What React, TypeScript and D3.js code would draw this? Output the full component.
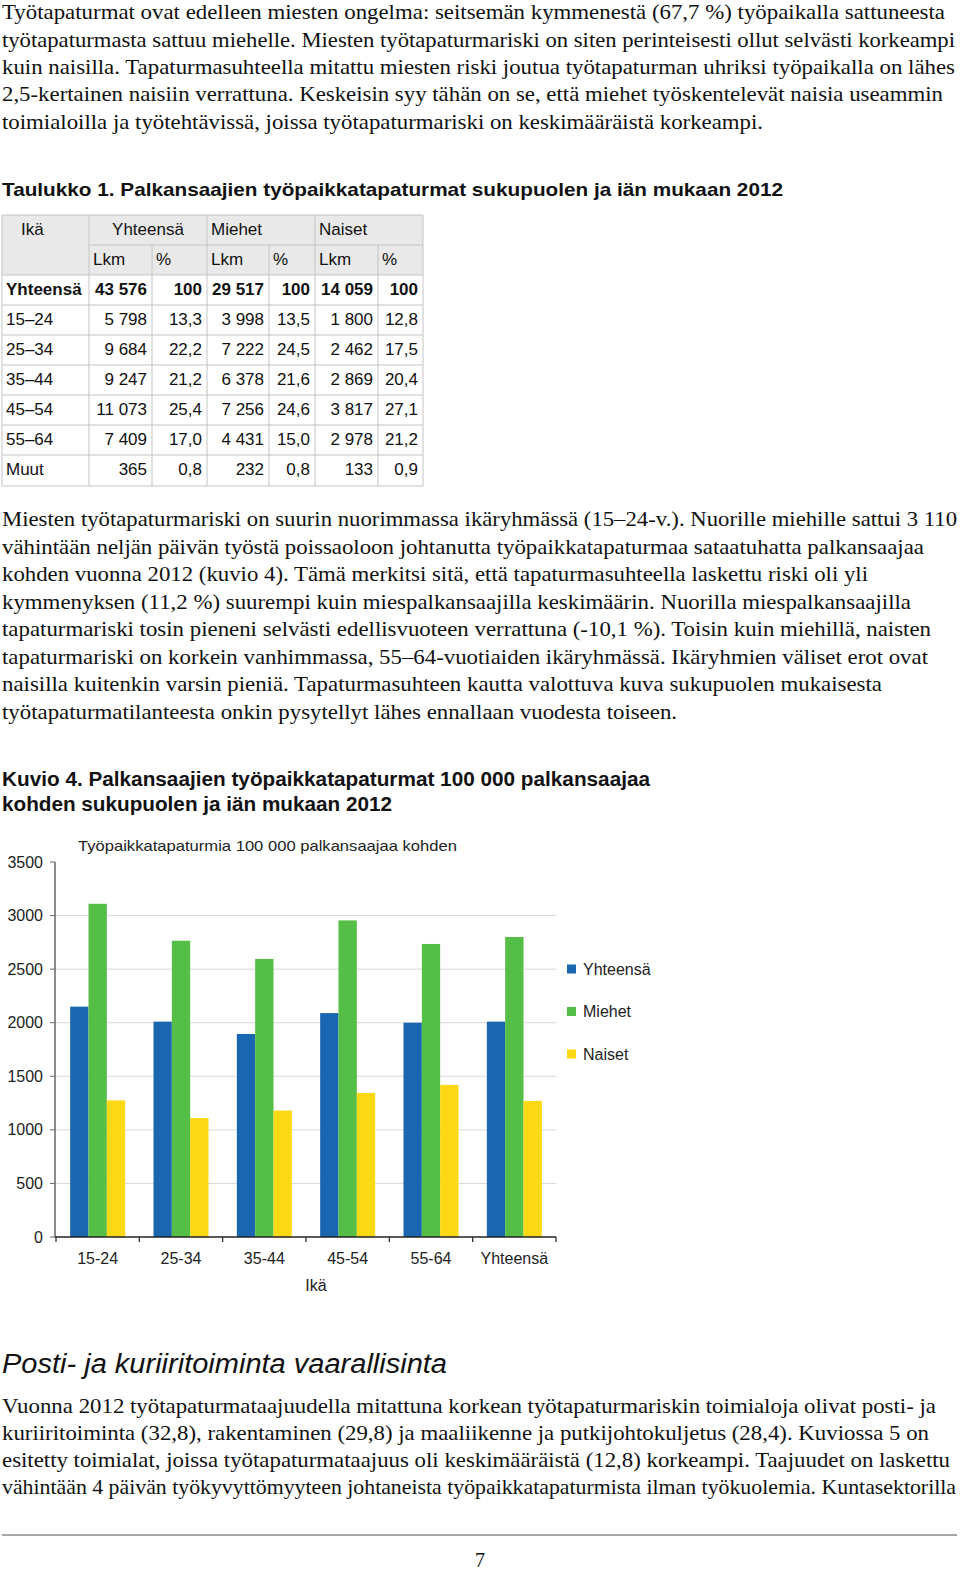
import * as d3 from 'd3';

// chart data (Kuvio 4)
const categories = ['15-24', '25-34', '35-44', '45-54', '55-64', 'Yhteensä'];
const seriesNames = ['Yhteensä', 'Miehet', 'Naiset'];
const yhteensa = [2150, 2010, 1895, 2090, 2000, 2010];
const miehet = [3110, 2765, 2595, 2955, 2735, 2800];
const naiset = [1275, 1110, 1180, 1345, 1420, 1270];
const seriesColors = ['#1b66b1', '#55be46', '#fdd815'];

// table data (Taulukko 1)
const tableAges = ['Yhteensä', '15–24', '25–34', '35–44', '45–54', '55–64', 'Muut'];
const totLkm = ['43 576', '5 798', '9 684', '9 247', '11 073', '7 409', '365'];
const totPct = ['100', '13,3', '22,2', '21,2', '25,4', '17,0', '0,8'];
const menLkm = ['29 517', '3 998', '7 222', '6 378', '7 256', '4 431', '232'];
const menPct = ['100', '13,5', '24,5', '21,6', '24,6', '15,0', '0,8'];
const womenLkm = ['14 059', '1 800', '2 462', '2 869', '3 817', '2 978', '133'];
const womenPct = ['100', '12,8', '17,5', '20,4', '27,1', '21,2', '0,9'];

const para1 = [
  'Työtapaturmat ovat edelleen miesten ongelma: seitsemän kymmenestä (67,7 %) työpaikalla sattuneesta',
  'työtapaturmasta sattuu miehelle. Miesten työtapaturmariski on siten perinteisesti ollut selvästi korkeampi',
  'kuin naisilla. Tapaturmasuhteella mitattu miesten riski joutua työtapaturman uhriksi työpaikalla on lähes',
  '2,5-kertainen naisiin verrattuna. Keskeisin syy tähän on se, että miehet työskentelevät naisia useammin',
  'toimialoilla ja työtehtävissä, joissa työtapaturmariski on keskimääräistä korkeampi.',
];
const para1Ends = [945, 955, 955, 943, 763];
const para1Mid = [12, 40, 67, 94, 122];

const para2 = [
  'Miesten työtapaturmariski on suurin nuorimmassa ikäryhmässä (15–24-v.). Nuorille miehille sattui 3 110',
  'vähintään neljän päivän työstä poissaoloon johtanutta työpaikkatapaturmaa sataatuhatta palkansaajaa',
  'kohden vuonna 2012 (kuvio 4). Tämä merkitsi sitä, että tapaturmasuhteella laskettu riski oli yli',
  'kymmenyksen (11,2 %) suurempi kuin miespalkansaajilla keskimäärin. Nuorilla miespalkansaajilla',
  'tapaturmariski tosin pieneni selvästi edellisvuoteen verrattuna (-10,1 %). Toisin kuin miehillä, naisten',
  'tapaturmariski on korkein vanhimmassa, 55–64-vuotiaiden ikäryhmässä. Ikäryhmien väliset erot ovat',
  'naisilla kuitenkin varsin pieniä. Tapaturmasuhteen kautta valottuva kuva sukupuolen mukaisesta',
  'työtapaturmatilanteesta onkin pysytellyt lähes ennallaan vuodesta toiseen.',
];
const para2Ends = [957, 924, 868, 911, 931, 928, 882, 677];
const para2Mid = [519, 547, 574, 602, 629, 657, 684, 712];

const para3 = [
  'Vuonna 2012 työtapaturmataajuudella mitattuna korkean työtapaturmariskin toimialoja olivat posti- ja',
  'kuriiritoiminta (32,8), rakentaminen (29,8) ja maaliikenne ja putkijohtokuljetus (28,4). Kuviossa 5 on',
  'esitetty toimialat, joissa työtapaturmataajuus oli keskimääräistä (12,8) korkeampi. Taajuudet on laskettu',
  'vähintään 4 päivän työkyvyttömyyteen johtaneista työpaikkatapaturmista ilman työkuolemia. Kuntasektorilla',
];
const para3Ends = [936, 929, 950, 956];
const para3Mid = [1406, 1433, 1460, 1487];

const serif = '"Liberation Serif", "Times New Roman", serif';
const sans = '"Liberation Sans", Arial, sans-serif';

function Para({ lines, ends, mids }: { lines: string[]; ends: number[]; mids: number[] }) {
  return (
    <g fontFamily={serif} fontSize={21.5} fill="#111">
      {lines.map((t, i) => (
        <text key={i} x={2} y={mids[i] + 7} textLength={ends[i] - 2} lengthAdjust="spacingAndGlyphs">
          {t}
        </text>
      ))}
    </g>
  );
}

function Table() {
  const colX = [2, 89, 152, 207, 269, 315, 378, 423];
  const top = 215;
  const rowH = 30;
  const nRows = 9;
  const bottom = top + nRows * rowH + 1;
  const line = '#c4c4c4';
  const cols = [totLkm, totPct, menLkm, menPct, womenLkm, womenPct];
  return (
    <g fontFamily={sans} fontSize={17} fill="#111">
      <rect x={colX[0]} y={top} width={colX[7] - colX[0]} height={rowH * 2} fill="#e9e9e9" />
      {/* horizontal lines */}
      {d3.range(nRows + 1).map((r) => {
        const yy = r === nRows ? bottom : top + r * rowH;
        return (
          <line key={'h' + r} x1={r === 1 ? colX[1] : colX[0]} x2={colX[7]} y1={yy} y2={yy} stroke={line} />
        );
      })}
      {/* vertical lines */}
      {colX.map((cx, c) => {
        const inFirst = c === 0 || c === 1 || c === 3 || c === 5 || c === 7;
        return (
          <line key={'v' + c} x1={cx} x2={cx} y1={inFirst ? top : top + rowH} y2={bottom} stroke={line} />
        );
      })}
      <text x={21} y={top + 20}>Ikä</text>
      <text x={(colX[1] + colX[3]) / 2} y={top + 20} textAnchor="middle">Yhteensä</text>
      <text x={colX[3] + 4} y={top + 20}>Miehet</text>
      <text x={colX[5] + 4} y={top + 20}>Naiset</text>
      {[1, 2, 3, 4, 5, 6].map((c) => (
        <text key={'s' + c} x={colX[c] + 4} y={top + rowH + 20}>
          {c % 2 === 1 ? 'Lkm' : '%'}
        </text>
      ))}
      {tableAges.map((age, r) => {
        const yy = top + (r + 2) * rowH + 20;
        const bold = r === 0 ? 'bold' : 'normal';
        return (
          <g key={'r' + r} fontWeight={bold}>
            <text x={colX[0] + 4} y={yy}>{age}</text>
            {cols.map((col, c) => (
              <text key={c} x={colX[c + 2] - 5} y={yy} textAnchor="end">
                {col[r]}
              </text>
            ))}
          </g>
        );
      })}
    </g>
  );
}

function BarChart() {
  const x0 = d3.scaleBand<string>().domain(categories).range([56, 556]).paddingInner(0.34).paddingOuter(0.17);
  const x1 = d3.scaleBand<string>().domain(seriesNames).range([0, x0.bandwidth()]);
  const y = d3.scaleLinear().domain([0, 3500]).range([1237, 862]);
  const series = [yhteensa, miehet, naiset];
  const step = x0.step();
  const left = 55;
  const right = 556;
  return (
    <g fontFamily={sans} fill="#222">
      <text x={78} y={851} fontSize={15} textLength={379} lengthAdjust="spacingAndGlyphs">
        Työpaikkatapaturmia  100 000 palkansaajaa  kohden
      </text>
      {y.ticks(7).map((t) => (
        <g key={t}>
          {t > 0 && t < 3500 && (
            <line x1={left} x2={right} y1={y(t)} y2={y(t)} stroke="#d9d9d9" />
          )}
          <line x1={left - 5} x2={left} y1={y(t)} y2={y(t)} stroke="#666" />
          <text x={43} y={y(t) + 5.5} fontSize={16} textAnchor="end">
            {t}
          </text>
        </g>
      ))}
      {categories.map((cat, i) => (
        <g key={cat}>
          {series.map((s, k) => (
            <rect
              key={k}
              x={(x0(cat) as number) + (x1(seriesNames[k]) as number)}
              y={y(s[i])}
              width={x1.bandwidth()}
              height={y(0) - y(s[i])}
              fill={seriesColors[k]}
            />
          ))}
          <text x={(x0(cat) as number) + x0.bandwidth() / 2} y={1264} fontSize={16} textAnchor="middle">
            {cat}
          </text>
        </g>
      ))}
      <line x1={left} x2={left} y1={862} y2={y(0)} stroke="#666" strokeWidth={1.5} />
      <line x1={left} x2={right} y1={y(0)} y2={y(0)} stroke="#222" strokeWidth={1.5} />
      {d3.range(categories.length + 1).map((i) => (
        <line key={i} x1={56 + i * step} x2={56 + i * step} y1={y(0)} y2={y(0) + 5} stroke="#222" strokeWidth={1.2} />
      ))}
      <text x={316} y={1291} fontSize={16} textAnchor="middle">Ikä</text>
      {seriesNames.map((name, k) => (
        <g key={name}>
          <rect x={567} y={964.5 + k * 42.5} width={9} height={9} fill={seriesColors[k]} />
          <text x={583} y={974.5 + k * 42.5} fontSize={16}>{name}</text>
        </g>
      ))}
    </g>
  );
}

export default function App() {
  return (
    <svg
      width={960}
      height={1572}
      style={{ position: 'absolute', left: 0, top: 0, background: '#fff' }}
    >
      <rect width={960} height={1572} fill="#fff" />
      <Para lines={para1} ends={para1Ends} mids={para1Mid} />
      <text x={2} y={196} fontFamily={sans} fontWeight="bold" fontSize={19} textLength={781} lengthAdjust="spacingAndGlyphs" fill="#111">
        Taulukko 1. Palkansaajien työpaikkatapaturmat sukupuolen ja iän mukaan 2012
      </text>
      <Table />
      <Para lines={para2} ends={para2Ends} mids={para2Mid} />
      <g fontFamily={sans} fontWeight="bold" fontSize={20} fill="#111">
        <text x={2} y={786} textLength={648} lengthAdjust="spacingAndGlyphs">
          Kuvio 4. Palkansaajien työpaikkatapaturmat 100 000 palkansaajaa
        </text>
        <text x={2} y={811} textLength={390} lengthAdjust="spacingAndGlyphs">
          kohden sukupuolen ja iän mukaan 2012
        </text>
      </g>
      <BarChart />
      <text x={2} y={1373} fontFamily={sans} fontStyle="italic" fontSize={27} textLength={445} lengthAdjust="spacingAndGlyphs" fill="#111">
        Posti- ja kuriiritoiminta vaarallisinta
      </text>
      <Para lines={para3} ends={para3Ends} mids={para3Mid} />
      <line x1={2} x2={957} y1={1535} y2={1535} stroke="#8a8a8a" strokeWidth={1.5} />
      <text x={480} y={1567} fontFamily={serif} fontSize={20} textAnchor="middle" fill="#111">7</text>
    </svg>
  );
}
